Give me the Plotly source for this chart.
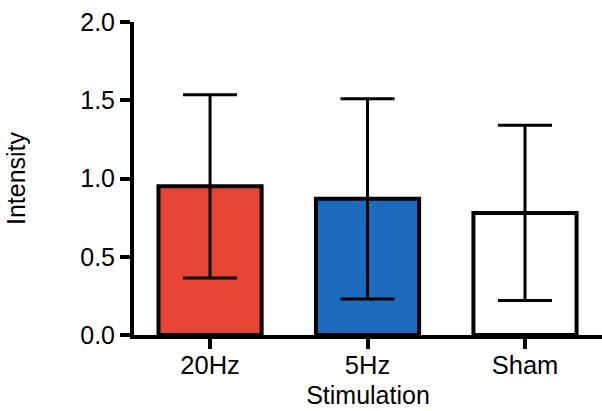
import plotly.graph_objects as go

categories = ["20Hz", "5Hz", "Sham"]
means = [0.95, 0.87, 0.78]
sd = [0.585, 0.64, 0.56]
bar_colors = ["#E84434", "#1C6BBE", "#FFFFFF"]
y_ticks = [0.0, 0.5, 1.0, 1.5, 2.0]
y_tick_labels = ["0.0", "0.5", "1.0", "1.5", "2.0"]

FONT = "Liberation Sans, Arial, Helvetica, sans-serif"

fig = go.Figure()
fig.add_trace(go.Bar(
    x=categories,
    y=means,
    width=0.655,
    marker=dict(color=bar_colors, line=dict(color="black", width=4)),
    error_y=dict(type="data", array=sd, visible=True, color="black",
                 thickness=3, width=27),
    showlegend=False,
))

fig.update_layout(
    width=602, height=411,
    margin=dict(l=134, r=0, t=22, b=76, pad=0),
    plot_bgcolor="white", paper_bgcolor="white",
    font=dict(family=FONT, size=25, color="black"),
    xaxis=dict(
        type="category",
        range=[-0.483, 2.489],
        showline=True, linecolor="black", linewidth=4,
        ticks="outside", ticklen=10, tickwidth=4, tickcolor="black",
        tickfont=dict(size=25.5),
        ticklabelstandoff=-6,
        showgrid=False, zeroline=False,
        title=dict(text="Stimulation", font=dict(size=25), standoff=10),
    ),
    yaxis=dict(
        range=[0, 2.0],
        tickvals=y_ticks, ticktext=y_tick_labels,
        showline=True, linecolor="black", linewidth=4,
        ticks="outside", ticklen=10, tickwidth=4, tickcolor="black",
        tickfont=dict(size=25),
        showgrid=False, zeroline=False,
        title=dict(text="Intensity", font=dict(size=25), standoff=48),
    ),
)

fig.write_html("out.html",
               config={"displayModeBar": False},
               post_script="document.body.style.margin='0';document.body.style.overflow='hidden';")
